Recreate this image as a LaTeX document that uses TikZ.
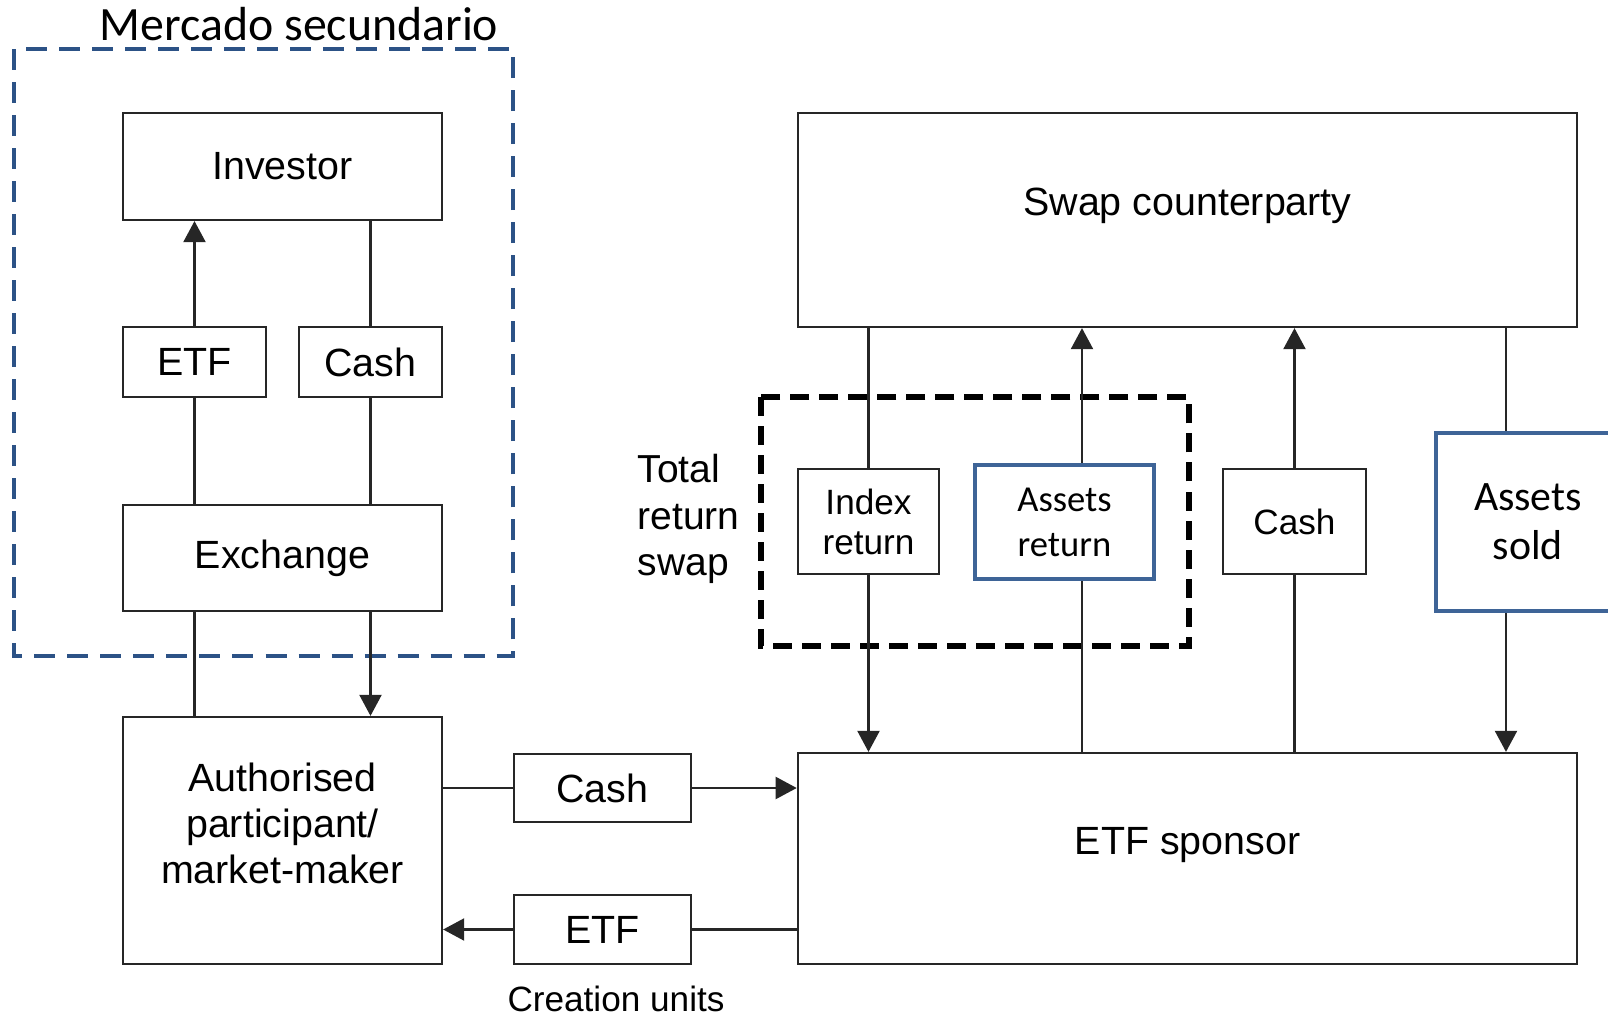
\documentclass[tikz,border=0pt]{standalone}
\usepackage{fontspec}
\setmainfont{Liberation Sans}
\newfontfamily\calibri{Carlito}
\usetikzlibrary{calc,arrows.meta,positioning}
\definecolor{dashblue}{RGB}{44,82,134}
\definecolor{boxblue}{RGB}{62,100,151}

\begin{document}
\begin{tikzpicture}[x=0.01cm,y=-0.01cm,
    txt/.style={align=center,inner sep=0pt,font=\fontsize{11.2}{13.1}\selectfont},
    box/.style={txt,draw=black!85,line width=0.6pt},
    small/.style={font=\fontsize{10}{11.4}\selectfont},
    bluebox/.style={box,draw=boxblue,line width=1.2pt},
    line/.style={draw=black!85,line width=0.6pt},
    arr/.style={line,-{Triangle[length=0.21cm,width=0.22cm]}}]
    \useasboundingbox (0,0) rectangle (1608,1015);
    % secondary market
    \draw[dashblue,line width=1.3pt,dash pattern=on 0.21cm off 0.12cm] (14,49) rectangle (513,656);
    \node[txt,anchor=base,font=\calibri\fontsize{13.6}{16}\selectfont] (mercado) at (299,41) {Mercado secundario};
    \node[box,minimum width=3.19cm,minimum height=1.07cm] (inv) at (282.5,166.5) {Investor};
    \node[box,minimum width=1.43cm,minimum height=0.7cm] (etfL) at (194.5,362) {ETF};
    \node[box,minimum width=1.43cm,minimum height=0.7cm] (cashL) at (370.5,362) {Cash};
    \node[box,minimum width=3.19cm,minimum height=1.06cm] (exch) at (282.5,558) {Exchange};
    \node[box,minimum width=3.19cm,minimum height=2.47cm,
      label={[txt,yshift=0.17cm]center:Authorised\\participant/\\market-maker}] (ap) at (282.5,840.5) {};
    % primary market
    \node[box,minimum width=1.77cm,minimum height=0.68cm] (cashM) at (602.5,788) {Cash};
    \node[box,minimum width=1.77cm,minimum height=0.69cm] (etfM) at (602.5,929.5) {ETF};
    \node[txt,small] (cu) at (616,999) {Creation units};
    \node[box,minimum width=7.79cm,minimum height=2.11cm,
      label={[txt,yshift=0.135cm]center:ETF sponsor}] (spons) at (1187.5,858.5) {};
    \node[box,minimum width=7.79cm,minimum height=2.14cm,
      label={[txt,yshift=0.14cm]center:Swap counterparty}] (swap) at (1187.5,220) {};
    % swap
    \draw[line width=1.6pt,dash pattern=on 0.19cm off 0.1cm] (761,397) rectangle (1189,646);
    \node[txt,anchor=west,align=left,font=\fontsize{11.1}{13.3}\selectfont] (trs) at (637,519) {Total\\return\\swap};
    \node[box,small,minimum width=1.41cm,minimum height=1.05cm] (idx) at (868.5,521.5) {Index\\return};
    \node[bluebox,font=\calibri\fontsize{10.4}{12.8}\selectfont,minimum width=1.79cm,minimum height=1.14cm] (assR) at (1064.5,522) {Assets\\return};
    \node[box,small,minimum width=1.43cm,minimum height=1.05cm] (cashR) at (1294.5,521.5) {Cash};
    \node[bluebox,font=\calibri\fontsize{11.9}{14}\selectfont,minimum width=1.84cm,minimum height=1.78cm] (sold) at (1528,522) {Assets\\sold};
    \coordinate (ax) at (1082,0);
    \coordinate (sx) at (1506,0);
    % flows
    \draw[arr] (etfL.north) -- (etfL.north |- inv.south);
    \draw[line] (inv.south -| cashL.north) -- (cashL.north);
    \draw[line] (etfL.south) -- (etfL.south |- exch.north);
    \draw[line] (cashL.south) -- (cashL.south |- exch.north);
    \draw[line] (exch.south -| etfL.south) -- (ap.north -| etfL.south);
    \draw[arr] (exch.south -| cashL.south) -- (ap.north -| cashL.south);
    \draw[line] (ap.east |- cashM.west) -- (cashM.west);
    \draw[arr] (cashM.east) -- (cashM.east -| spons.west);
    \draw[line] (spons.west |- etfM.east) -- (etfM.east);
    \draw[arr] (etfM.west) -- (etfM.west -| ap.east);
    \draw[line] (swap.south -| idx.north) -- (idx.north);
    \draw[arr] (idx.south) -- (idx.south |- spons.north);
    \draw[line] (spons.north -| ax) -- (assR.south -| ax);
    \draw[arr] (assR.north -| ax) -- (swap.south -| ax);
    \draw[line] (spons.north -| cashR.south) -- (cashR.south);
    \draw[arr] (cashR.north) -- (cashR.north |- swap.south);
    \draw[line] (swap.south -| sx) -- (sold.north -| sx);
    \draw[arr] (sold.south -| sx) -- (spons.north -| sx);
\end{tikzpicture}
\end{document}
